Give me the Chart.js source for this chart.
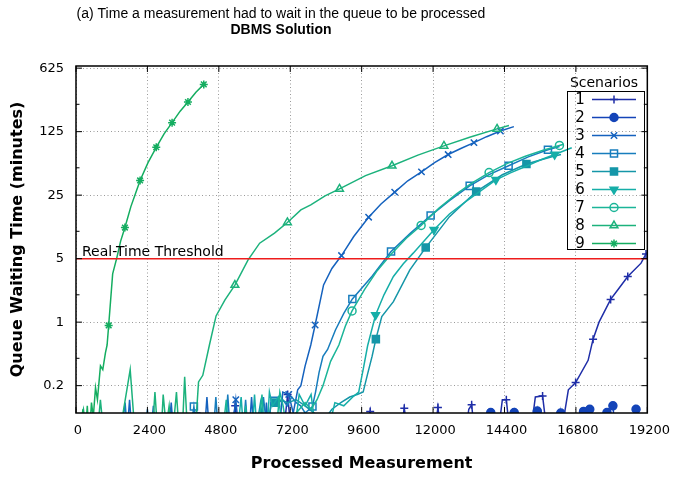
<!DOCTYPE html>
<html>
<head>
<meta charset="utf-8">
<script src="https://cdn.jsdelivr.net/npm/chart.js@4.4.1/dist/chart.umd.min.js"></script>
<style>
  html, body { margin: 0; padding: 0; background: #fff; }
</style>
</head>
<body>
<canvas id="chart" width="678" height="477"></canvas>
<script>
const titleLines = ["(a) Time a measurement had to wait in the queue to be processed", "DBMS Solution"];
const xTitle = "Processed Measurement";
const yTitle = "Queue Waiting Time (minutes)";
const xTicks = [0, 2400, 4800, 7200, 9600, 12000, 14400, 16800, 19200];
const yTicks = [0.2, 1, 5, 25, 125, 625];
const yMinorTicks = [0.4, 2, 10, 50, 250];
const yRange = [0.1, 660];
const thresholdValue = 5;
const thresholdLabel = "Real-Time Threshold";
const legendTitle = "Scenarios";
const scenarios = ["1", "2", "3", "4", "5", "6", "7", "8", "9"];

// line points per scenario ([measurement, minutes]); 0.05 = below the axis
const s1 = [[3900,0.05],[4050,0.1],[4200,0.05],[5200,0.05],[5350,0.12],[5500,0.05],[6950,0.05],[7113,0.16],[7250,0.05],
  [9750,0.05],[9887,0.104],[10000,0.05],[10880,0.05],[11032,0.113],[11180,0.05],[12020,0.05],[12163,0.115],[12300,0.05],
  [13060,0.05],[13200,0.11],[13296,0.123],[13420,0.05],[14160,0.05],[14328,0.14],[14462,0.14],[14604,0.05],
  [15247,0.05],[15437,0.15],[15680,0.154],[15860,0.05],[16270,0.05],[16546,0.18],[16791,0.216],[17211,0.38],
  [17377,0.65],[17577,1.0],[17967,1.78],[18210,2.27],[18543,3.18],[18989,4.46],[19155,5.64],[19200,5.9]];
const s2 = [[13000,0.05],[13938,0.101],[14100,0.05],[14600,0.05],[14727,0.101],[14850,0.05],[15400,0.05],[15502,0.105],
  [15650,0.05],[16200,0.05],[16291,0.1],[16400,0.05],[16950,0.05],[17057,0.104],[17266,0.11],[17400,0.05],
  [17750,0.05],[17843,0.101],[18043,0.12],[18150,0.05],[18700,0.05],[18821,0.11],[19000,0.05]];
const s3 = [[1700,0.05],[1800,0.14],[1900,0.05],[2500,0.05],[2600,0.12],[2700,0.05],[3100,0.05],[3200,0.13],[3300,0.05],
  [4300,0.05],[4400,0.15],[4500,0.05],[5200,0.05],[5370,0.14],[5500,0.05],[5800,0.05],[5900,0.15],[6000,0.05],
  [6300,0.05],[6400,0.13],[6500,0.05],[6800,0.05],[6950,0.17],[7150,0.16],[7300,0.1],[7450,0.18],[7557,0.2],
  [7700,0.33],[7890,0.56],[8036,0.93],[8320,2.57],[8600,3.9],[8922,5.41],[9334,8.76],[9834,14.3],[10250,20],
  [10710,27],[11150,36],[11610,45.1],[12050,57],[12507,70],[12950,82],[13373,94.7],[13800,110],[14262,127],[14715,142]];
const s4 = [[1500,0.05],[1650,0.13],[1750,0.05],[2300,0.05],[2400,0.11],[2500,0.05],[3800,0.05],[3962,0.118],[4100,0.05],
  [4600,0.05],[4700,0.15],[4800,0.05],[5000,0.05],[5100,0.16],[5200,0.05],[5600,0.05],[5700,0.14],[5800,0.05],
  [6200,0.05],[6300,0.15],[6450,0.05],[6550,0.13],[6671,0.136],[6800,0.13],[6950,0.14],[7100,0.12],[7250,0.15],
  [7400,0.13],[7550,0.12],[7700,0.1],[7946,0.118],[8050,0.17],[8169,0.28],[8300,0.42],[8456,0.5],[8719,0.82],
  [9000,1.25],[9288,1.8],[9950,3.2],[10587,6.0],[11250,9.6],[11918,14.9],[12570,22],[13230,31.6],[13880,42],
  [14538,52.6],[15200,66],[15860,79],[16250,86]];
const s5 = [[6000,0.05],[6200,0.13],[6350,0.05],[6550,0.12],[6720,0.13],[6900,0.14],[7100,0.13],[7400,0.14],[7700,0.12],
  [8000,0.1],[8300,0.08],[8600,0.11],[8900,0.13],[9200,0.15],[9450,0.16],[9650,0.17],[9800,0.27],[9950,0.42],
  [10077,0.65],[10276,1.15],[10667,1.68],[11220,3.77],[11752,6.62],[12551,14.5],[13449,27.4],[14328,41.9],
  [15137,55],[15990,66],[16300,70]];
const s6 = [[5400,0.05],[5550,0.15],[5650,0.05],[5900,0.05],[6000,0.16],[6100,0.05],[6400,0.05],[6500,0.17],[6600,0.12],
  [6800,0.15],[7000,0.05],[7300,0.05],[7500,0.16],[7700,0.12],[7900,0.16],[8100,0.05],[8400,0.05],[8700,0.13],
  [9000,0.12],[9300,0.15],[9500,0.17],[9650,0.3],[9800,0.55],[10067,1.2],[10350,2.0],[10667,3.18],[11000,4.4],
  [11332,5.75],[12031,10.4],[12550,15.5],[13107,21.3],[14112,36.9],[14600,44],[15104,51.6],[15600,61],[16086,70],[16660,83]];
const s7 = [[4900,0.05],[5050,0.14],[5150,0.05],[5600,0.05],[5700,0.12],[5800,0.05],[6100,0.05],[6250,0.16],[6350,0.05],
  [6700,0.05],[6850,0.17],[6960,0.12],[7100,0.06],[7400,0.1],[7700,0.13],[7900,0.11],[8100,0.14],[8300,0.2],
  [8556,0.37],[8835,0.56],[9050,0.9],[9277,1.33],[9700,2.3],[10100,3.6],[10587,5.6],[11100,8.4],[11598,11.6],
  [12200,18],[12800,26],[13300,34],[13882,44.3],[14500,56],[15100,67],[15700,78],[16246,88.2],[16380,91]];
const s8 = [[0,0.05],[250,0.11],[380,0.05],[700,0.05],[820,0.14],[950,0.05],[1430,0.05],[1821,0.3],[2000,0.05],
  [2550,0.05],[2653,0.17],[2760,0.05],[2850,0.05],[2930,0.16],[3030,0.07],[3130,0.12],[3230,0.05],[3376,0.17],
  [3480,0.05],[3560,0.05],[3652,0.25],[3760,0.05],[3990,0.05],[4118,0.22],[4261,0.26],[4484,0.56],[4707,1.17],
  [5007,1.76],[5340,2.56],[5783,4.85],[6172,7.4],[6671,9.55],[7104,12.5],[7557,17.2],[7890,19.5],[8370,24.5],
  [8855,29.3],[9730,41],[10620,52.6],[11490,69],[12365,87.1],[13255,109],[14150,134],[14550,146]];
const s9 = [[0,0.05],[80,0.1],[150,0.05],[230,0.11],[300,0.05],[380,0.12],[440,0.05],[520,0.13],[580,0.09],[656,0.19],
  [720,0.14],[822,0.33],[900,0.3],[989,0.46],[1045,0.56],[1098,0.92],[1232,3.4],[1365,5],[1500,7.8],[1644,11],
  [1844,18.7],[2000,26],[2154,36.3],[2420,57],[2697,84],[2960,118],[3229,157],[3500,210],[3762,265],[4030,340],[4294,414]];

// marker points per scenario
const m1 = [[4050,0.1],[5350,0.12],[7113,0.16],[9887,0.104],[11032,0.113],[12163,0.115],[13296,0.123],[14462,0.14],
  [15680,0.154],[16791,0.216],[17377,0.65],[17967,1.78],[18543,3.18],[19155,5.64]];
const m2 = [[13938,0.101],[14727,0.101],[15502,0.105],[16291,0.1],[17057,0.104],[17266,0.11],[17843,0.101],[18043,0.12],[18821,0.11]];
const m3 = [[5370,0.14],[7150,0.16],[8036,0.93],[8922,5.41],[9834,14.3],[10710,27],[11610,45.1],[12507,70],[13373,94.7],[14262,127]];
const m4 = [[3962,0.118],[6671,0.136],[7946,0.118],[9288,1.8],[10587,6.0],[11918,14.9],[13230,31.6],[14538,52.6],[15860,79]];
const m5 = [[6720,0.13],[10077,0.65],[11752,6.62],[13449,27.4],[15137,55]];
const m6 = [[10067,1.2],[12031,10.4],[14112,36.9],[16086,70]];
const m7 = [[9277,1.33],[11598,11.6],[13882,44.3],[16246,88.2]];
const m8 = [[5340,2.56],[7104,12.5],[8855,29.3],[10620,52.6],[12365,87.1],[14150,134]];
const m9 = [[1098,0.92],[1644,11],[2154,36.3],[2697,84.2],[3229,157],[3762,265],[4294,414]];

const lines = [s1, s2, s3, s4, s5, s6, s7, s8, s9];
const marks = [m1, m2, m3, m4, m5, m6, m7, m8, m9];

const colors = ["#1f2ea8", "#1444b8", "#1562be", "#177dbd", "#1596a8", "#16aea8", "#1bb598", "#1cb27c", "#14ad60"];
const pointStyles = ["cross", "circle", "crossRot", "rect", "rect", "triangle", "circle", "triangle", "star"];
const filled = [false, true, false, false, true, true, false, false, false];
const rotations = [0, 0, 0, 0, 0, 180, 0, 0, 0];
const radii = [4, 4, 4.5, 5, 5, 4.5, 4, 4.5, 4];

const toXY = arr => arr.map(([x, y]) => ({ x, y }));

const datasets = [{
  label: thresholdLabel,
  data: [{ x: xTicks[0], y: thresholdValue }, { x: xTicks[xTicks.length - 1], y: thresholdValue }],
  showLine: true,
  borderColor: "#ee1c1c",
  borderWidth: 1.5,
  pointRadius: 0,
  order: 0,
}];

scenarios.forEach((name, i) => {
  datasets.push({
    label: name,
    data: toXY(lines[i]),
    showLine: true,
    borderColor: colors[i],
    borderWidth: 1.5,
    pointRadius: 0,
    order: 40 - 2 * i,
  });
  datasets.push({
    label: name + " marks",
    data: toXY(marks[i]),
    showLine: false,
    pointStyle: pointStyles[i],
    pointRadius: radii[i],
    pointRotation: rotations[i],
    pointBorderColor: colors[i],
    pointBackgroundColor: filled[i] ? colors[i] : "rgba(0,0,0,0)",
    pointBorderWidth: 1.5,
    order: 39 - 2 * i,
  });
});

const titles = {
  id: "titles",
  afterDraw(chart) {
    const { ctx, chartArea: a, scales: { y } } = chart;
    ctx.save();
    ctx.fillStyle = "#000";
    ctx.textAlign = "center";
    ctx.textBaseline = "alphabetic";
    ctx.font = "17px 'Liberation Sans Narrow'";
    if (ctx.measureText(titleLines[0]).width > 430) ctx.font = "14px 'Liberation Sans'";
    ctx.fillText(titleLines[0], 281, 18);
    ctx.font = "bold 17px 'Liberation Sans Narrow'";
    if (ctx.measureText(titleLines[1]).width > 110) ctx.font = "bold 14px 'Liberation Sans'";
    ctx.fillText(titleLines[1], 281, 34);

    // threshold label
    ctx.textAlign = "left";
    ctx.font = "14px 'DejaVu Sans'";
    ctx.fillText(thresholdLabel, a.left + 6, y.getPixelForValue(thresholdValue) - 3);
    ctx.restore();
  },
};

const frame = {
  id: "frame",
  afterDatasetsDraw(chart) {
    const { ctx, chartArea: a, scales: { x, y } } = chart;
    ctx.save();
    ctx.strokeStyle = "#000";
    ctx.lineWidth = 1;
    ctx.beginPath();
    xTicks.forEach(v => {
      const px = x.getPixelForValue(v);
      ctx.moveTo(px, a.bottom); ctx.lineTo(px, a.bottom - 6);
      ctx.moveTo(px, a.top); ctx.lineTo(px, a.top + 6);
    });
    yTicks.forEach(v => {
      const py = y.getPixelForValue(v);
      ctx.moveTo(a.left, py); ctx.lineTo(a.left + 6, py);
      ctx.moveTo(a.right, py); ctx.lineTo(a.right - 6, py);
    });
    yMinorTicks.forEach(v => {
      const py = y.getPixelForValue(v);
      ctx.moveTo(a.left, py); ctx.lineTo(a.left + 3.5, py);
      ctx.moveTo(a.right, py); ctx.lineTo(a.right - 3.5, py);
    });
    ctx.stroke();
    ctx.lineWidth = 1.5;
    ctx.strokeRect(a.left, a.top, a.right - a.left, a.bottom - a.top);
    ctx.restore();
  },
};

const keyBox = {
  id: "keyBox",
  afterDraw(chart) {
    const { ctx } = chart;
    ctx.save();
    ctx.fillStyle = "#000";
    ctx.textAlign = "center";
    ctx.textBaseline = "middle";
    ctx.font = "14px 'DejaVu Sans'";
    ctx.fillText(legendTitle, 604, 83);
    ctx.strokeStyle = "#000";
    ctx.lineWidth = 1;
    ctx.strokeRect(567.5, 91.5, 77, 158);
    scenarios.forEach((name, i) => {
      const yy = 99.5 + 18 * i;
      ctx.fillStyle = "#000";
      ctx.font = "15px 'DejaVu Sans'";
      ctx.fillText(name, 580, yy + 1);
      ctx.strokeStyle = colors[i];
      ctx.lineWidth = 1.5;
      ctx.beginPath();
      ctx.moveTo(592, yy);
      ctx.lineTo(636, yy);
      ctx.stroke();
      ctx.fillStyle = filled[i] ? colors[i] : "rgba(0,0,0,0)";
      Chart.helpers.drawPoint(ctx, {
        pointStyle: pointStyles[i],
        rotation: rotations[i],
        radius: radii[i],
        borderWidth: 1.5,
      }, 614, yy);
    });
    ctx.restore();
  },
};

Chart.defaults.font.family = "'DejaVu Sans'";
Chart.defaults.color = "#000";

new Chart(document.getElementById("chart"), {
  type: "scatter",
  data: { datasets },
  options: {
    responsive: false,
    animation: false,
    events: [],
    layout: { padding: { left: 0, right: 25, top: 66, bottom: 0 } },
    plugins: { legend: { display: false }, tooltip: { enabled: false } },
    scales: {
      x: {
        type: "linear",
        min: xTicks[0],
        max: xTicks[xTicks.length - 1],
        afterBuildTicks: s => { s.ticks = xTicks.map(v => ({ value: v })); },
        afterFit: s => { s.height = 64; },
        grid: { color: "#9a9a9a", lineWidth: 1, drawTicks: false },
        border: { display: false, dash: [1, 2.5] },
        ticks: { font: { size: 13 }, padding: 10, labelOffset: 2, maxRotation: 0, autoSkip: false, callback: v => String(v) },
        title: { display: true, text: xTitle, font: { size: 16, weight: "bold" }, padding: { top: 0, bottom: 4 } },
      },
      y: {
        type: "logarithmic",
        min: yRange[0],
        max: yRange[1],
        afterBuildTicks: s => {
          s.ticks = yTicks.concat(yMinorTicks).sort((p, q) => p - q).map(v => ({ value: v }));
        },
        afterFit: s => { s.width = 76; },
        grid: {
          color: c => (yTicks.includes(c.tick.value) ? "#9a9a9a" : "rgba(0,0,0,0)"),
          lineWidth: 1,
          drawTicks: false,
        },
        border: { display: false, dash: [1, 2.5] },
        ticks: { font: { size: 13 }, padding: 12, autoSkip: false, callback: v => (yTicks.includes(v) ? String(v) : "") },
        title: { display: true, text: yTitle, font: { size: 16, weight: "bold" }, padding: { top: 8, bottom: 0 } },
      },
    },
  },
  plugins: [frame, titles, keyBox],
});
</script>
</body>
</html>
